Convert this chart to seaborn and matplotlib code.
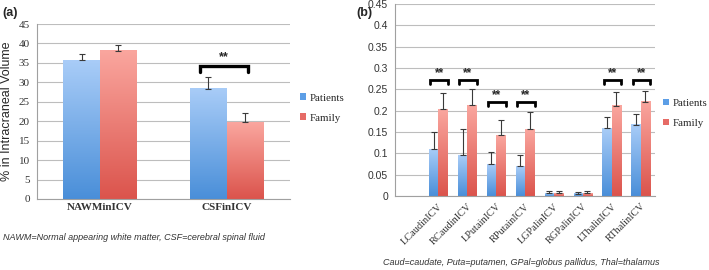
import matplotlib
matplotlib.use("Agg")
import matplotlib.pyplot as plt
from matplotlib.patches import Patch
import numpy as np
import pandas as pd
import seaborn as sns

# ---- data ----
left_cats = ["NAWMinICV", "CSFinICV"]
left_patients = [35.7, 28.4]
left_patients_err = [1.7, 3.0]
left_family = [38.1, 19.7]
left_family_err = [1.6, 2.3]
left_sig = ["CSFinICV"]
left_sig_y = [34.2]

right_cats = ["LCaudinICV", "RCaudinICV", "LPutainICV", "RPutainICV",
              "LGPalinICV", "RGPalinICV", "LThalinICV", "RThalinICV"]
right_patients = [0.110, 0.095, 0.075, 0.070, 0.007, 0.005, 0.159, 0.167]
right_patients_err = [0.041, 0.062, 0.029, 0.025, 0.005, 0.004, 0.027, 0.025]
right_family = [0.203, 0.213, 0.142, 0.157, 0.006, 0.007, 0.211, 0.221]
right_family_err = [0.038, 0.038, 0.036, 0.039, 0.005, 0.005, 0.034, 0.025]
right_sig = ["LCaudinICV", "RCaudinICV", "LPutainICV", "RPutainICV",
             "LThalinICV", "RThalinICV"]
right_sig_y = [0.272, 0.272, 0.221, 0.221, 0.272, 0.272]

groups = ["Patients", "Family"]
# top (light) and bottom (dark) colours of the Excel gradient
grad_cols = {"Patients": ((0.66, 0.80, 0.97), (0.29, 0.56, 0.85)),
             "Family": ((0.98, 0.65, 0.62), (0.86, 0.33, 0.30))}
mid_cols = {"Patients": (0.36, 0.62, 0.90), "Family": (0.90, 0.42, 0.40)}

serif = "Liberation Serif"
sans = "Liberation Sans"


def make_df(cats, pat, fam):
    return pd.DataFrame({"cat": cats * 2,
                         "group": ["Patients"] * len(cats) + ["Family"] * len(cats),
                         "value": list(pat) + list(fam)})


def gradient_bars(ax, n):
    # replace the flat seaborn bars by vertical gradients
    bars = [p for p in ax.patches][:2 * n]
    for i, p in enumerate(bars):
        g = groups[i // n]
        top, bot = np.array(grad_cols[g][0]), np.array(grad_cols[g][1])
        t = np.linspace(0, 1, 64)[:, None]
        img = (bot * (1 - t) + top * t)[:, None, :]
        x, w, h = p.get_x(), p.get_width(), p.get_height()
        ax.imshow(img, extent=[x, x + w, 0, h], origin="lower",
                  aspect="auto", zorder=2, interpolation="bilinear")
        p.set_visible(False)
    return bars


def errs(ax, bars, n, perr, ferr):
    for i, p in enumerate(bars):
        e = perr[i] if i < n else ferr[i - n]
        xc = p.get_x() + p.get_width() / 2
        ax.errorbar(xc, p.get_height(), yerr=[[0], [e]], fmt="none",
                    ecolor="#3a3a3a", elinewidth=0.8, capsize=2.2,
                    capthick=0.8, zorder=3)


def bracket(ax, xc, y, leg, half, lw, star_off, fs):
    ax.plot([xc - half, xc - half, xc + half, xc + half],
            [y - leg, y, y, y - leg], color="black", lw=lw, zorder=4,
            solid_joinstyle="miter")
    ax.text(xc, y + star_off, "**", ha="center", va="center",
            fontsize=fs, fontweight="bold", family=sans)


def style_axes(ax, n, ymax, step):
    ax.set_ylim(0, ymax)
    ax.set_yticks(np.arange(0, ymax + step / 2, step))
    ax.yaxis.grid(True, color="#bdbdbd", lw=0.8, zorder=0)
    ax.xaxis.grid(False)
    ax.set_axisbelow(True)
    for s in ["top", "right"]:
        ax.spines[s].set_visible(False)
    for s in ["left", "bottom"]:
        ax.spines[s].set_color("#a0a0a0")
        ax.spines[s].set_linewidth(0.8)
    ax.tick_params(axis="y", length=3, color="#a0a0a0", width=0.8, pad=2)
    ax.tick_params(axis="x", length=0, pad=3)
    ax.set_xticks(np.arange(-0.5, n, 1.0), minor=True)
    ax.tick_params(axis="x", which="minor", length=3, color="#a0a0a0", width=0.8)
    ax.set_xlabel("")
    ax.set_ylabel("")


sns.set_style("white")
fig = plt.figure(figsize=(7.09, 2.70), dpi=100)
axa = fig.add_axes([0.052, 0.263, 0.357, 0.648])
axb = fig.add_axes([0.557, 0.274, 0.367, 0.711])

legend_kw = dict(frameon=False, handlelength=0.55, handleheight=0.55,
                 handletextpad=0.35, labelspacing=1.0,
                 prop={"family": serif, "size": 7.8})

# ---- panel (a) ----
dfa = make_df(left_cats, left_patients, left_family)
sns.barplot(data=dfa, x="cat", y="value", hue="group", order=left_cats,
            hue_order=groups, errorbar=None, width=0.58, legend=False,
            palette=mid_cols, ax=axa)
bars_a = gradient_bars(axa, len(left_cats))
errs(axa, bars_a, len(left_cats), left_patients_err, left_family_err)
axa.set_xlim(-0.5, len(left_cats) - 0.5)
style_axes(axa, len(left_cats), 45, 5)
for c, y in zip(left_sig, left_sig_y):
    bracket(axa, left_cats.index(c) - 0.02, y, 1.5, 0.19, 2.4, 2.3, 9)
axa.set_ylabel("% in Intracraneal Volume", family=sans, fontsize=9, labelpad=4)
axa.set_xticks(range(len(left_cats)))
axa.set_xticklabels(left_cats, family=serif, fontsize=8, fontweight="bold",
                    color="#333333")
for lab in axa.get_yticklabels():
    lab.set_family(serif)
    lab.set_fontsize(8)
    lab.set_color("#333333")
handles = [Patch(facecolor=mid_cols[g], edgecolor="none", label=g) for g in groups]
axa.legend(handles=handles, loc="center left", bbox_to_anchor=(1.0, 0.52),
           **legend_kw)
fig.text(0.004, 0.975, "(a)", fontsize=9, fontweight="bold", family=sans,
         va="top", ha="left")
fig.text(0.004, 0.122, "NAWM=Normal appearing white matter, CSF=cerebral spinal fluid",
         fontsize=6.5, style="italic", family=sans, color="#333333",
         va="center", ha="left")

# ---- panel (b) ----
dfb = make_df(right_cats, right_patients, right_family)
sns.barplot(data=dfb, x="cat", y="value", hue="group", order=right_cats,
            hue_order=groups, errorbar=None, width=0.64, legend=False,
            palette=mid_cols, ax=axb)
bars_b = gradient_bars(axb, len(right_cats))
errs(axb, bars_b, len(right_cats), right_patients_err, right_family_err)
axb.set_xlim(-1.5, len(right_cats) - 0.5)
style_axes(axb, len(right_cats), 0.45, 0.05)
for c, y in zip(right_sig, right_sig_y):
    bracket(axb, right_cats.index(c) + 0.03, y, 0.009, 0.3, 2.0, 0.015, 8.5)
axb.set_yticks(np.arange(0, 0.451, 0.05))
axb.set_yticklabels(["0", "0.05", "0.1", "0.15", "0.2", "0.25", "0.3",
                     "0.35", "0.4", "0.45"], family=sans, fontsize=7.5,
                    color="#333333")
axb.set_xticks(range(len(right_cats)))
axb.set_xticklabels(right_cats, family=serif, fontsize=7.5, rotation=45,
                    ha="right", rotation_mode="anchor", color="#333333")
axb.tick_params(axis="x", pad=4)
axb.legend(handles=handles, loc="center left", bbox_to_anchor=(1.0, 0.43),
           borderaxespad=0.3, **legend_kw)
fig.text(0.502, 0.975, "(b)", fontsize=9, fontweight="bold", family=sans,
         va="top", ha="left")
fig.text(0.735, 0.026, "Caud=caudate, Puta=putamen, GPal=globus pallidus, Thal=thalamus",
         fontsize=6.5, style="italic", family=sans, color="#333333",
         va="center", ha="center")

fig.savefig("out.png", dpi=100, facecolor="white")
